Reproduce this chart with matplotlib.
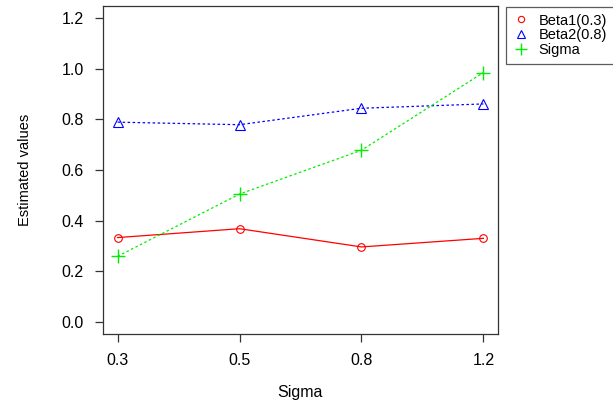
import matplotlib
matplotlib.use("Agg")
import matplotlib.pyplot as plt
from matplotlib.lines import Line2D

plt.rcParams['font.family'] = ['Liberation Sans', 'DejaVu Sans']

x_labels = ["0.3", "0.5", "0.8", "1.2"]
beta1 = [0.333, 0.368, 0.296, 0.330]
beta2 = [0.789, 0.779, 0.844, 0.861]
sigma = [0.259, 0.505, 0.678, 0.985]
y_ticks = [0.0, 0.2, 0.4, 0.6, 0.8, 1.0, 1.2]
y_ticklabels = ["0.0", "0.2", "0.4", "0.6", "0.8", "1.0", "1.2"]

fig = plt.figure(figsize=(6.13, 4.08), dpi=100)
ax = fig.add_axes([103/613, 1 - 334/408, (498-103)/613, (334-6)/408])

xs = list(range(1, len(x_labels) + 1))
ax.plot(xs, beta1, color='red', lw=0.9, ls='-', marker='o', ms=5.5, mfc='none', mec='red', mew=0.8)
ax.plot(xs, beta2, color='blue', lw=0.9, ls=(0, (2, 2)), marker='^', ms=7, mfc='none', mec='blue', mew=0.8)
ax.plot(xs, sigma, color='#00ee00', lw=0.9, ls=(0, (2, 2)), marker='+', ms=10, mec='#00ee00', mew=1.0)

ax.set_xlim(0.88, 4.12)
ax.set_ylim(-0.048, 1.248)
ax.set_xticks(xs)
ax.set_xticklabels(x_labels, fontsize=11.5)
ax.set_yticks(y_ticks)
ax.set_yticklabels(y_ticklabels, fontsize=11.5)
ax.tick_params(direction='out', length=6, width=0.9, color='#333333')
ax.tick_params(axis='x', pad=8)
ax.tick_params(axis='y', pad=8)
for s in ax.spines.values():
    s.set_linewidth(0.9)
    s.set_color('#333333')

fig.text(300/613, 1 - 393/408, "Sigma", ha='center', va='center', fontsize=11.5)
fig.text(25/613, 1 - 170/408, "Estimated values", rotation=90, ha='center', va='center', fontsize=10.5)

handles = [
    Line2D([], [], ls='none', marker='o', ms=4.5, mfc='none', mec='red', mew=0.8),
    Line2D([], [], ls='none', marker='^', ms=6, mfc='none', mec='blue', mew=0.8),
    Line2D([], [], ls='none', marker='+', ms=9, mec='#00ee00', mew=1.0),
]
leg = fig.legend(handles, ["Beta1(0.3)", "Beta2(0.8)", "Sigma"], loc='upper left',
                 bbox_to_anchor=(506/613, 1 - 7/408), fontsize=10.5, frameon=True,
                 fancybox=False, handlelength=1.2, handletextpad=0.6, borderpad=0.45,
                 labelspacing=0.05, borderaxespad=0)
leg.get_frame().set_edgecolor('#333333')
leg.get_frame().set_linewidth(0.9)

fig.savefig("out.png", dpi=100)
